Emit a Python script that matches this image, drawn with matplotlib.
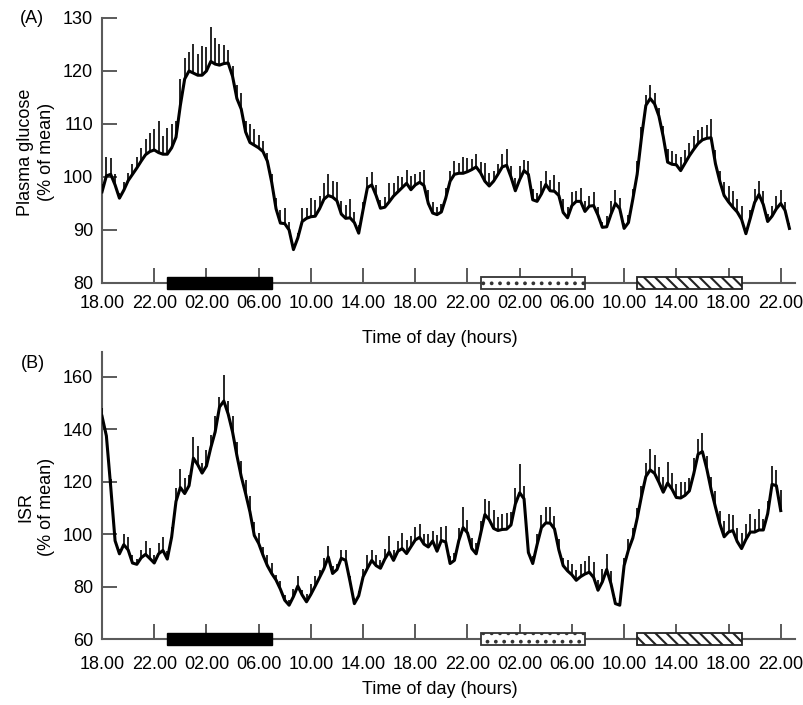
import numpy as np
import matplotlib
matplotlib.use('Agg')
import matplotlib.pyplot as plt
from matplotlib.patches import Rectangle
from matplotlib.transforms import blended_transform_factory

plt.rcParams['font.family'] = ['Liberation Sans', 'DejaVu Sans']
plt.rcParams['hatch.linewidth'] = 1.5

# samples every 20 min, starting 18.00 (hours from start = index / 3)
glucose = [
    97.2, 100.2, 100.5, 98.5, 96.0, 97.5, 99.3, 100.5, 101.7, 103.0, 104.2, 104.8,
    105.1, 104.6, 104.3, 104.3, 105.5, 107.5, 113.5, 118.5, 120.0, 119.6, 119.2, 119.2,
    120.0, 121.8, 121.3, 121.1, 121.4, 121.5, 119.0, 114.8, 112.8, 108.5, 106.5, 106.0,
    105.5, 104.8, 103.0, 99.0, 94.0, 91.3, 91.2, 90.0, 86.3, 88.5, 91.6, 92.2,
    92.5, 92.6, 94.0, 95.8, 96.5, 96.2, 95.5, 93.0, 92.2, 92.3, 91.4, 89.4,
    93.8, 98.0, 98.5, 96.5, 94.1, 94.3, 95.3, 96.4, 97.2, 98.0, 98.8, 97.6,
    98.5, 99.0, 98.4, 95.0, 93.2, 92.9, 93.4, 96.0, 99.2, 100.5, 100.7, 100.7,
    101.0, 101.4, 101.9, 100.8, 99.2, 98.3, 99.2, 100.5, 101.9, 102.2, 100.0, 97.4,
    99.5, 101.2, 100.5, 95.7, 95.4, 96.8, 98.6, 97.4, 97.3, 96.5, 93.3, 92.3,
    94.6, 95.4, 95.4, 93.5, 94.5, 94.6, 92.8, 90.5, 90.6, 93.0, 95.0, 94.0,
    90.3, 91.4, 95.8, 100.5, 107.5, 113.5, 114.8, 113.8, 111.5, 107.6, 102.8, 102.4,
    102.3, 101.2, 102.6, 104.0, 105.2, 106.3, 107.0, 107.3, 107.4, 102.5, 99.2, 96.5,
    95.3, 94.3, 93.4, 92.0, 89.3, 92.2, 95.2, 96.7, 94.8, 91.6, 92.6, 94.0,
    95.0, 93.7, 90.3,
]
glucose_sem = [
    1.5, 3.5, 3.0, 2.0, 1.0, 1.5, 1.5, 2.0, 2.0, 2.5, 3.0, 3.5,
    4.0, 6.0, 3.5, 5.0, 4.5, 3.0, 5.0, 4.0, 3.5, 5.5, 4.0, 5.5,
    4.5, 6.5, 5.0, 4.0, 3.5, 2.5, 2.0, 2.5, 3.0, 2.0, 3.5, 3.0,
    2.5, 2.0, 1.5, 1.5, 2.0, 2.5, 3.0, 1.5, 1.0, 1.0, 2.5, 2.0,
    3.5, 3.0, 2.5, 3.0, 4.0, 3.0, 3.5, 2.5, 2.5, 3.5, 2.0, 1.5,
    1.5, 2.0, 2.5, 2.0, 1.5, 2.0, 3.5, 2.5, 3.0, 2.0, 2.5, 2.5,
    2.0, 2.0, 3.0, 2.5, 2.0, 1.5, 1.5, 2.0, 2.0, 2.5, 2.0, 3.0,
    2.5, 2.0, 2.5, 2.0, 3.5, 2.5, 2.0, 2.0, 2.5, 3.0, 2.0, 2.5,
    2.5, 2.0, 2.5, 2.0, 1.5, 2.5, 2.5, 2.0, 3.0, 2.5, 2.5, 2.0,
    2.5, 2.0, 2.5, 2.0, 2.0, 2.5, 1.5, 1.0, 2.0, 2.5, 2.5, 2.0,
    1.0, 1.5, 2.0, 2.5, 2.0, 2.0, 2.5, 2.0, 1.5, 2.0, 2.5, 2.5,
    2.0, 2.5, 2.5, 2.5, 2.5, 2.5, 2.5, 2.5, 3.5, 2.5, 2.0, 2.5,
    3.0, 3.0, 2.5, 2.5, 1.0, 1.5, 2.5, 2.5, 2.5, 1.5, 2.0, 2.5,
    2.5, 1.5, 1.0,
]

isr = [
    145.0, 137.5, 118.0, 97.5, 92.5, 96.0, 94.0, 89.0, 88.5, 91.0, 92.3, 90.7,
    89.0, 92.5, 93.8, 90.5, 98.9, 112.5, 117.8, 115.5, 118.5, 129.0, 126.5, 123.3,
    126.0, 133.0, 139.0, 148.5, 150.8, 145.8, 139.0, 130.0, 122.0, 115.5, 108.5, 99.5,
    96.5, 92.0, 88.0, 85.0, 82.5, 79.0, 74.8, 72.9, 76.2, 80.2, 76.8, 74.2,
    77.0, 80.2, 83.5, 86.8, 91.3, 85.0, 86.5, 90.8, 90.0, 82.0, 73.5, 76.5,
    83.7, 87.0, 90.0, 88.0, 87.0, 90.5, 93.2, 90.0, 93.5, 94.5, 92.6, 95.2,
    97.8, 98.8, 96.2, 95.1, 97.4, 93.5, 97.6, 97.0, 88.8, 90.0, 97.5, 102.5,
    100.5, 94.5, 92.5, 100.0, 107.5, 105.5, 102.2, 101.4, 101.8, 101.9, 103.5, 111.5,
    115.8, 113.5, 93.0, 88.8, 96.0, 102.5, 104.3, 104.2, 102.0, 94.0, 88.0, 86.0,
    84.5, 82.4, 83.8, 84.8, 85.5, 83.5, 78.6, 81.8, 86.5, 81.0, 73.5, 72.9,
    88.0, 94.0, 98.5, 106.0, 114.5, 122.0, 124.5, 123.2, 119.8, 116.0, 119.5, 117.2,
    114.0, 113.8, 114.8, 116.5, 123.0, 130.5, 131.5, 125.0, 117.0, 110.3, 104.0, 99.0,
    100.8, 101.4, 97.2, 94.5, 98.0, 100.8, 100.8, 101.6, 101.6, 107.8, 119.0, 118.5,
    109.0,
]
isr_sem = [
    3, 2, 3, 3, 2, 4, 5, 3, 2, 3, 5, 4,
    3, 4, 5, 3, 4, 5, 7, 6, 4, 8, 7, 4,
    6, 5, 6, 4, 10, 5, 6, 5, 6, 5, 6, 5,
    4, 3, 4, 4, 2, 3, 2, 2, 3, 4, 2, 3,
    4, 4, 3, 4, 4, 3, 2, 3, 4, 2, 2, 2,
    3, 5, 4, 4, 3, 4, 6, 4, 4, 6, 5, 4,
    5, 5, 4, 5, 4, 6, 5, 6, 3, 3, 5, 8,
    5, 4, 4, 5, 6, 7, 7, 5, 6, 6, 5, 6,
    11, 5, 4, 3, 4, 5, 6, 6, 5, 4, 3, 4,
    4, 4, 5, 5, 6, 6, 4, 5, 6, 5, 2, 2,
    3, 4, 4, 4, 4, 5, 8, 7, 6, 6, 8, 6,
    5, 6, 5, 5, 6, 6, 7, 5, 5, 6, 5, 6,
    7, 6, 5, 6, 6, 7, 5, 8, 4, 5, 7, 6,
    8,
]

tick_hours = list(range(0, 53, 4))
tick_labels = ['18.00', '22.00', '02.00', '06.00', '10.00', '14.00', '18.00',
               '22.00', '02.00', '06.00', '10.00', '14.00', '18.00', '22.00']

# periods marked under the curves (hours from 18.00)
sleep_1 = (5, 13)
sleep_2 = (29, 37)
day_3 = (41, 49)

fig = plt.figure(figsize=(8.04, 7.05), dpi=100)
ax_a = fig.add_axes([0.1269, 0.5986, 0.862, 0.3759])
ax_b = fig.add_axes([0.1269, 0.0936, 0.862, 0.4071])

axis_col = '#5a5a5a'
fs = 13


def draw_panel(ax, vals, sem, ylim, yticks, xpad):
    t = np.arange(len(vals)) / 3
    vals = np.array(vals)
    sem = np.array(sem, dtype=float)
    ax.errorbar(t, vals, yerr=[np.zeros_like(sem), sem], fmt='-', color='black',
                lw=2.2, elinewidth=1.2, capsize=0, zorder=4)
    ax.set_xlim(0, 53.1)
    ax.set_ylim(*ylim)
    ax.set_yticks(yticks)
    ax.set_xticks(tick_hours)
    ax.set_xticklabels(tick_labels)
    for s in ['top', 'right']:
        ax.spines[s].set_visible(False)
    for s in ['left', 'bottom']:
        ax.spines[s].set_color(axis_col)
        ax.spines[s].set_linewidth(1.5)
    ax.tick_params(axis='both', direction='in', length=11, width=1.4,
                   color=axis_col, labelsize=fs)
    ax.tick_params(axis='x', pad=xpad)
    ax.tick_params(axis='y', pad=6.5)

    tr = blended_transform_factory(ax.transData, ax.transAxes)
    h = 12.5 / (ax.get_position().height * 705)
    ax.add_patch(Rectangle((sleep_1[0], -h / 2), sleep_1[1] - sleep_1[0], h,
                           transform=tr, clip_on=False, facecolor='black',
                           edgecolor='black', zorder=5))
    ax.add_patch(Rectangle((sleep_2[0], -h / 2), sleep_2[1] - sleep_2[0], h,
                           transform=tr, clip_on=False, facecolor='white',
                           edgecolor='#333333', lw=1.3, hatch='..', zorder=5))
    ax.add_patch(Rectangle((day_3[0], -h / 2), day_3[1] - day_3[0], h,
                           transform=tr, clip_on=False, facecolor='white',
                           edgecolor='#222222', lw=1.3, hatch='\\\\\\', zorder=5))


draw_panel(ax_a, glucose, glucose_sem, (80, 130), [80, 90, 100, 110, 120, 130], 8.5)
draw_panel(ax_b, isr, isr_sem, (60, 169.5), [60, 80, 100, 120, 140, 160], 12)

ax_a.set_xlabel('Time of day (hours)', fontsize=fs)
ax_a.xaxis.set_label_coords(0.488, -0.176)
ax_b.set_xlabel('Time of day (hours)', fontsize=fs)
ax_b.xaxis.set_label_coords(0.488, -0.148)

fig.text(0.045, 0.784, 'Plasma glucose\n(% of mean)', rotation=90, ha='center',
         va='center', fontsize=fs, linespacing=1.3)
fig.text(0.045, 0.281, 'ISR\n(% of mean)', rotation=90, ha='center',
         va='center', fontsize=fs, linespacing=1.3)
fig.text(0.040, 0.974, '(A)', ha='center', va='center', fontsize=fs)
fig.text(0.041, 0.485, '(B)', ha='center', va='center', fontsize=fs)

fig.savefig('out.png', dpi=100)
